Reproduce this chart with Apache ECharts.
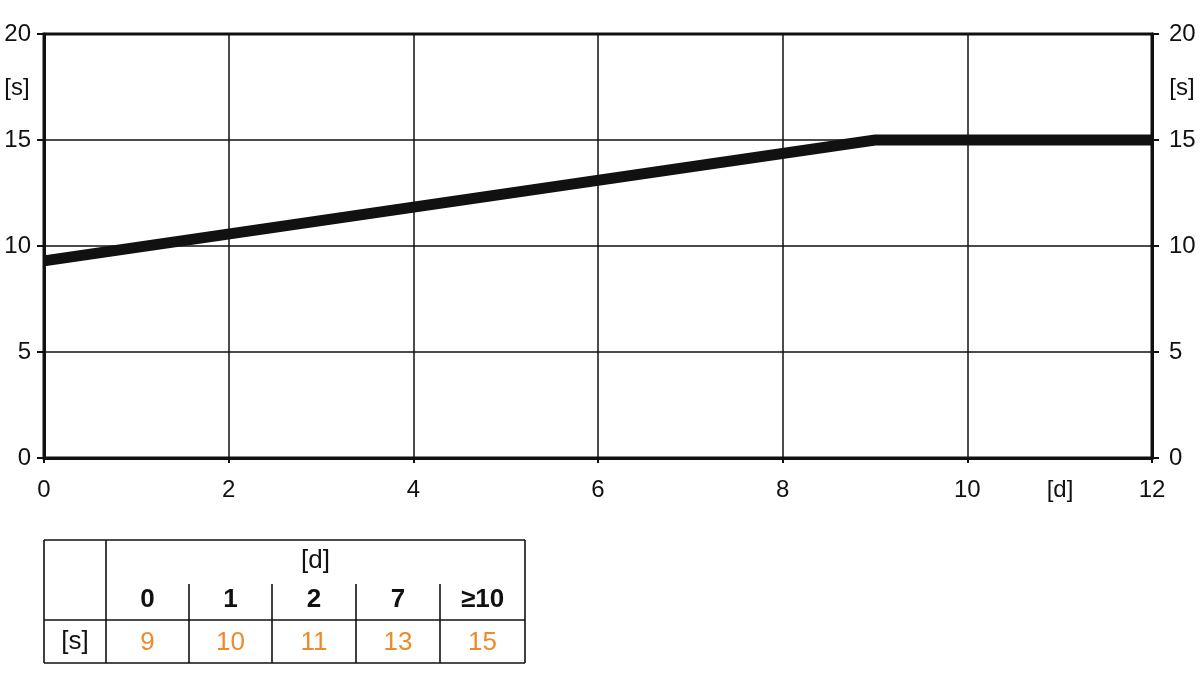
<!DOCTYPE html>
<html lang="en">
<head>
    <meta charset="UTF-8">
    <title>[s] / [d]</title>
    <style>
        html, body { margin: 0; padding: 0; background: #fff; }
        #container { width: 1200px; height: 674px; }
    </style>
</head>
<body>
<div id="container"></div>
<script src="https://cdn.jsdelivr.net/npm/echarts@6/dist/echarts.min.js"></script>
<script>
    // curve points [d, s]
    var days = [0, 9, 12];
    var secs = [9.3, 15, 15];
    var xTicks = [0, 2, 4, 6, 8, 10, 12];
    var yTicks = [0, 5, 10, 15, 20];
    // table below the chart
    var tableDays = ['0', '1', '2', '7', '≥10'];
    var tableSecs = ['9', '10', '11', '13', '15'];

    var orange = '#ef8a2a';
    var font = 'Arial, "Liberation Sans", sans-serif';

    var lineData = days.map(function (d, i) { return [d, secs[i]]; });

    // table geometry
    var tLeft = 44, tTop = 540, tBottom = 663, tMid = 620, tPart = 584;
    var colX = [106, 189, 272, 356, 440, 525];
    var g = [];
    function hline(x1, x2, y) {
        g.push({ type: 'line', shape: { x1: x1, y1: y, x2: x2, y2: y }, style: { stroke: '#111', lineWidth: 1.6 } });
    }
    function vline(x, y1, y2) {
        g.push({ type: 'line', shape: { x1: x, y1: y1, x2: x, y2: y2 }, style: { stroke: '#111', lineWidth: 1.6 } });
    }
    function text(str, x, y, color, weight, size) {
        g.push({ type: 'text', x: x, y: y, style: { text: str, fill: color, font: weight + ' ' + size + 'px ' + font, align: 'center', verticalAlign: 'middle' } });
    }
    hline(tLeft, colX[5], tTop);
    hline(tLeft, colX[5], tMid);
    hline(tLeft, colX[5], tBottom);
    vline(tLeft, tTop, tBottom);
    vline(colX[0], tTop, tBottom);
    vline(colX[5], tTop, tBottom);
    for (var i = 1; i < 5; i++) vline(colX[i], tPart, tBottom);
    text('[d]', (colX[0] + colX[5]) / 2, 561, '#111', 'normal', 26);
    text('[s]', (tLeft + colX[0]) / 2, 642, '#111', 'normal', 26);
    for (var j = 0; j < 5; j++) {
        var cx = (colX[j] + colX[j + 1]) / 2;
        text(tableDays[j], cx, 600, '#111', 'bold', 26);
        text(tableSecs[j], cx, 643, orange, 'normal', 26);
    }
    // axis units
    text('[s]', 17, 88, '#111', 'normal', 24);
    text('[s]', 1182, 88, '#111', 'normal', 24);
    text('[d]', 1060, 490, '#111', 'normal', 24);

    var axisLabel = { color: '#111', fontSize: 24, fontFamily: font };
    var yAxisBase = {
        type: 'value', min: yTicks[0], max: yTicks[yTicks.length - 1], interval: 5,
        axisLine: { show: true, lineStyle: { color: '#111', width: 3 } },
        axisTick: { show: true, length: 7, lineStyle: { color: '#111', width: 2 } }
    };

    var myChart = echarts.init(document.getElementById('container'));
    var option = {
        backgroundColor: '#fff',
        animation: false,
        grid: { left: 44, right: 48, top: 34, bottom: 216, show: true, borderColor: '#111', borderWidth: 3 },
        xAxis: {
            type: 'value', min: 0, max: 12, interval: 2,
            axisLine: { show: true, lineStyle: { color: '#111', width: 3 } },
            axisTick: { show: true, length: 5, lineStyle: { color: '#111', width: 2 } },
            axisLabel: Object.assign({}, axisLabel, { margin: 20, formatter: function (v) { return xTicks.indexOf(v) >= 0 ? String(v) : ''; } }),
            splitLine: { show: true, lineStyle: { color: '#111', width: 1.5 } }
        },
        yAxis: [
            Object.assign({}, yAxisBase, {
                position: 'left',
                axisLabel: Object.assign({}, axisLabel, { margin: 13 }),
                splitLine: { show: true, lineStyle: { color: '#111', width: 1.5 } }
            }),
            Object.assign({}, yAxisBase, {
                position: 'right',
                axisLabel: Object.assign({}, axisLabel, { margin: 17 }),
                splitLine: { show: false }
            })
        ],
        series: [{
            type: 'line',
            data: lineData,
            yAxisIndex: 0,
            symbol: 'none',
            lineStyle: { color: '#111', width: 11, cap: 'butt', join: 'miter' }
        }],
        graphic: g
    };
    myChart.setOption(option, true);
</script>
</body>
</html>
